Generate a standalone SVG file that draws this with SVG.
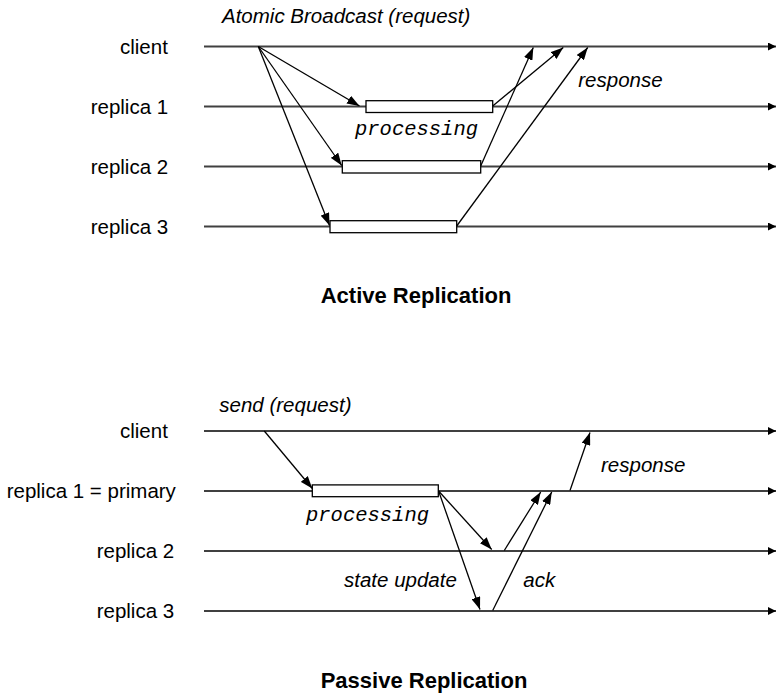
<svg xmlns="http://www.w3.org/2000/svg" width="776" height="696" viewBox="0 0 776 696">
<defs>
<style>
.lbl{font-family:"Liberation Sans",Arial,sans-serif;font-size:20.5px;fill:#000}
.it{font-family:"Liberation Sans",Arial,sans-serif;font-size:20.5px;font-style:italic;fill:#000}
.mono{font-family:"Liberation Mono","Courier New",monospace;font-size:20.5px;font-style:italic;fill:#000}
.title{font-family:"Liberation Sans",Arial,sans-serif;font-size:22px;font-weight:bold;fill:#000}
.tl{stroke:#404040;stroke-width:2;fill:none;marker-end:url(#ha)}
.msg{stroke:#000;stroke-width:1.3;fill:none;marker-end:url(#ma)}
.box{fill:#fff;stroke:#000;stroke-width:1.3}
</style>
<marker id="ma" markerUnits="userSpaceOnUse" markerWidth="13" markerHeight="9" refX="12.5" refY="4.5" orient="auto"><path d="M0,0 L12.5,4.5 L0,9 z" fill="#000"/></marker>
<marker id="ha" markerUnits="userSpaceOnUse" markerWidth="9" markerHeight="9" refX="8" refY="4" orient="auto"><path d="M0,0 L8,4 L0,8 z" fill="#000"/></marker>
</defs>

<!-- Active replication -->
<g id="active-timelines">
<line class="tl" x1="204" y1="46.5" x2="776" y2="46.5"/>
<line class="tl" x1="204" y1="106.5" x2="776" y2="106.5"/>
<line class="tl" x1="204" y1="166.5" x2="776" y2="166.5"/>
<line class="tl" x1="204" y1="226.5" x2="776" y2="226.5"/>
</g>
<g id="a-client"><text class="lbl" x="120" y="53.5">client</text></g>
<g id="a-replica1"><text class="lbl" x="90.7" y="113.5">replica 1</text></g>
<g id="a-replica2"><text class="lbl" x="90.7" y="173.5">replica 2</text></g>
<g id="a-replica3"><text class="lbl" x="90.7" y="233.5">replica 3</text></g>

<g id="a-proc1"><rect class="box" x="366" y="100.7" width="126.7" height="11.8"/></g>
<g id="a-proc2"><rect class="box" x="342.3" y="160.7" width="138.4" height="12.3"/></g>
<g id="a-proc3"><rect class="box" x="330" y="220.7" width="126.7" height="12"/></g>

<g id="active-connectors">
<line class="msg" x1="258.3" y1="46.5" x2="359.5" y2="106"/>
<line class="msg" x1="258.3" y1="46.5" x2="341.7" y2="165.5"/>
<line class="msg" x1="258.3" y1="46.5" x2="329.5" y2="225.5"/>
<line class="msg" x1="492.7" y1="106" x2="563.3" y2="47.5"/>
<line class="msg" x1="480.7" y1="166" x2="533.3" y2="47.5"/>
<line class="msg" x1="456.7" y1="226" x2="587.7" y2="47.5"/>
</g>
<text class="it" x="222" y="22.7">Atomic Broadcast (request)</text>
<text class="it" x="578.3" y="87.3">response</text>
<text class="mono" x="355" y="135">processing</text>
<text class="title" x="320.7" y="303.3">Active Replication</text>

<!-- Passive replication -->
<g id="passive-timelines">
<line class="tl" x1="204" y1="431" x2="776" y2="431"/>
<line class="tl" x1="204" y1="491" x2="776" y2="491"/>
<line class="tl" x1="204" y1="551" x2="776" y2="551"/>
<line class="tl" x1="204" y1="611" x2="776" y2="611"/>
</g>
<g id="p-client"><text class="lbl" x="120" y="438">client</text></g>
<g id="p-replica1"><text class="lbl" x="6.7" y="498">replica 1 = primary</text></g>
<g id="p-replica2"><text class="lbl" x="96.7" y="558">replica 2</text></g>
<g id="p-replica3"><text class="lbl" x="96.7" y="618">replica 3</text></g>

<g id="p-proc1"><rect class="box" x="312.3" y="484.9" width="126" height="11.8"/></g>

<g id="passive-connectors">
<line class="msg" x1="264.3" y1="431" x2="312.3" y2="488.5"/>
<line class="msg" x1="438.6" y1="491" x2="491.7" y2="549.5"/>
<line class="msg" x1="438.6" y1="491" x2="480" y2="609.5"/>
<line class="msg" x1="504.3" y1="550.5" x2="540.7" y2="492"/>
<line class="msg" x1="492.7" y1="610.5" x2="551.7" y2="492"/>
<line class="msg" x1="570" y1="490.5" x2="590" y2="432.5"/>
</g>
<text class="it" x="219.3" y="412">send (request)</text>
<text class="it" x="601" y="472">response</text>
<text class="mono" x="306" y="520.5">processing</text>
<text class="it" x="344" y="586.7">state update</text>
<text class="it" x="523.3" y="586.7">ack</text>
<text class="title" x="320.7" y="688.3">Passive Replication</text>
</svg>
